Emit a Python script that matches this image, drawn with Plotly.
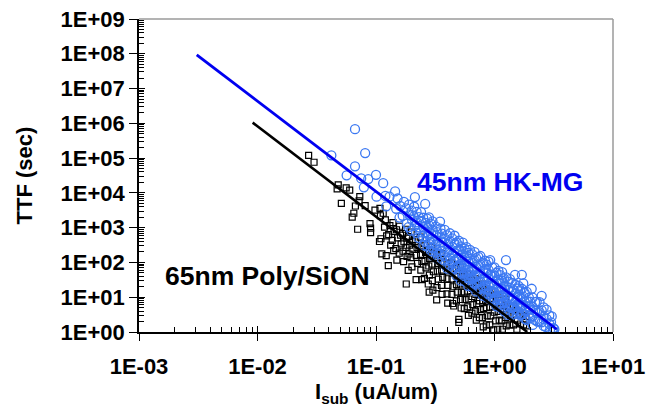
import plotly.graph_objects as go

# ---------------- data ----------------
# 65nm Poly/SiON (black squares)
poly_isub = [
    0.027, 0.030, 0.048, 0.047, 0.056, 0.060, 0.051, 0.073, 0.072, 0.081, 0.067, 0.065, 0.063, 0.070,
    0.089, 0.090, 0.090, 0.098, 0.108, 0.109, 0.115, 0.107, 0.110, 0.112, 0.122, 0.127, 0.150, 0.180,
    0.120, 0.118, 0.123, 0.131, 0.128, 0.133, 0.139, 0.142, 0.137, 0.141, 0.149, 0.152, 0.147,
    0.158, 0.161, 0.163, 0.157, 0.168, 0.172, 0.169, 0.171, 0.178, 0.182, 0.179, 0.183,
    0.188, 0.192, 0.190, 0.187, 0.198, 0.202, 0.205, 0.197, 0.201,
    0.216, 0.222, 0.219, 0.224, 0.218, 0.236, 0.241, 0.238, 0.244, 0.239, 0.243,
    0.257, 0.262, 0.259, 0.264, 0.256, 0.277, 0.283, 0.279, 0.282, 0.276, 0.281,
    0.296, 0.303, 0.298, 0.305, 0.299, 0.302, 0.326, 0.332, 0.329, 0.335, 0.327, 0.325,
    0.355, 0.362, 0.358, 0.365, 0.357, 0.361, 0.395, 0.402, 0.398, 0.405, 0.397, 0.403,
    0.435, 0.442, 0.438, 0.445, 0.437, 0.443, 0.475, 0.482, 0.478, 0.485, 0.477, 0.453,
    0.500, 0.500, 0.515, 0.522, 0.518, 0.525, 0.517, 0.523, 0.553, 0.562, 0.558, 0.565, 0.556,
    0.593, 0.603, 0.597, 0.606, 0.595, 0.602, 0.642, 0.652, 0.647, 0.656, 0.645,
    0.690, 0.705, 0.697, 0.708, 0.693, 0.702, 0.740, 0.755, 0.748, 0.758, 0.745,
    0.790, 0.805, 0.797, 0.810, 0.793, 0.803, 0.850, 0.865, 0.857, 0.868, 0.853,
    0.910, 0.925, 0.917, 0.930, 0.913, 0.990, 1.010, 0.995, 1.020, 0.985,
    1.070, 1.090, 1.075, 1.095, 1.065, 1.150, 1.170, 1.155, 1.165, 1.240, 1.260, 1.245, 1.255,
    1.340, 1.360, 1.345, 1.440, 1.460, 1.445, 1.540, 1.560, 1.545, 1.640, 1.660, 1.740, 1.760,
    1.840, 1.860,
]
poly_ttf = [
    1.2e5, 7.6e4, 1.7e4, 1.3e4, 1.4e4, 1.2e4, 5.0e3, 7.8e3, 5.9e3, 4.3e3, 4.2e3, 2.6e3, 2.0e3, 900,
    1300, 970, 720, 3200, 3600, 2200, 2600, 400, 480, 177, 158, 81, 117, 24,
    1680, 1030, 580, 1150, 630, 315, 1390, 780, 430, 220, 870, 510, 250,
    1100, 610, 340, 185, 680, 390, 210, 105, 900, 500, 270, 150,
    550, 315, 175, 59, 750, 410, 240, 137, 75,
    455, 268, 160, 94, 32, 535, 300, 171, 107, 60, 32,
    348, 191, 113, 70, 35, 229, 129, 79, 43, 24, 14,
    276, 156, 90, 54, 30, 16, 168, 94, 56, 33, 19, 8.4,
    179, 104, 60, 37, 22, 12, 96, 57, 34, 22, 12.5, 6.8,
    97, 58, 33, 20, 12, 6.6, 67, 39, 23, 14, 7.8, 5.6,
    2.3, 1.9, 72, 40, 24, 14, 8.6, 4.9, 43, 24, 14, 8.5, 4.7,
    46, 26, 15, 8.9, 5.3, 3.0, 31, 18, 10.5, 6.1, 3.5,
    34, 20, 12, 6.6, 4.0, 2.2, 22, 12.8, 7.8, 4.4, 2.6,
    24, 14, 8.0, 4.7, 2.6, 1.4, 14.7, 8.5, 5.0, 2.9, 1.6,
    16, 9.1, 5.2, 2.9, 1.6, 11.5, 6.3, 3.7, 2.1, 1.15,
    12, 6.9, 3.9, 2.2, 1.2, 7.1, 3.9, 2.1, 1.2, 8.8, 4.7, 2.6, 1.5,
    5.3, 2.9, 1.6, 5.6, 3.0, 1.6, 4.2, 2.2, 1.2, 3.1, 1.7, 3.0, 1.6,
    2.8, 1.5,
]

# 45nm HK-MG (blue circles)
hkmg_isub = [
    0.0665, 0.081, 0.042, 0.0665, 0.0565, 0.075, 0.086, 0.100, 0.079, 0.115, 0.145, 0.101,
    0.120, 0.122, 0.130, 0.152, 0.148, 0.160, 0.158, 0.172, 0.168, 0.180, 0.182,
    0.190, 0.192, 0.188, 0.200, 0.202, 0.198, 0.213, 0.210, 0.208, 0.212,
    0.220, 0.222, 0.218, 0.230, 0.232, 0.228, 0.240, 0.242, 0.238,
    0.250, 0.252, 0.248, 0.251, 0.260, 0.262, 0.258, 0.261, 0.270, 0.272, 0.268, 0.271,
    0.280, 0.282, 0.278, 0.281, 0.290, 0.292, 0.288, 0.291, 0.300, 0.302, 0.298, 0.301, 0.299,
    0.320, 0.322, 0.318, 0.321, 0.347, 0.330, 0.332, 0.328, 0.331, 0.350, 0.352, 0.348, 0.351,
    0.360, 0.362, 0.358, 0.361, 0.380, 0.382, 0.378, 0.381, 0.379, 0.400, 0.402, 0.398, 0.401, 0.399,
    0.420, 0.422, 0.418, 0.421, 0.419, 0.440, 0.442, 0.438, 0.441, 0.439,
    0.460, 0.462, 0.458, 0.461, 0.459, 0.480, 0.482, 0.478, 0.481, 0.479,
    0.500, 0.502, 0.498, 0.501, 0.499, 0.520, 0.522, 0.518, 0.521, 0.519,
    0.540, 0.542, 0.538, 0.541, 0.539, 0.560, 0.562, 0.558, 0.561, 0.559,
    0.580, 0.582, 0.578, 0.581, 0.579, 0.600, 0.602, 0.598, 0.601, 0.599,
    0.620, 0.622, 0.618, 0.621, 0.619, 0.650, 0.652, 0.648, 0.651, 0.649,
    0.680, 0.682, 0.678, 0.681, 0.679, 0.700, 0.702, 0.698, 0.701, 0.699,
    0.730, 0.732, 0.728, 0.731, 0.729, 0.760, 0.762, 0.758, 0.761, 0.759,
    0.800, 0.802, 0.798, 0.801, 0.799, 0.830, 0.832, 0.828, 0.831, 0.829,
    0.860, 0.862, 0.858, 0.861, 0.859, 0.890, 0.892, 0.888, 0.891, 0.889,
    0.920, 0.922, 0.918, 0.921, 0.919, 0.960, 0.962, 0.958, 0.961, 0.959,
    1.000, 1.002, 0.998, 1.001, 0.999, 1.040, 1.042, 1.038, 1.041, 1.039,
    1.080, 1.082, 1.078, 1.081, 1.079, 1.120, 1.122, 1.118, 1.121, 1.119,
    1.160, 1.162, 1.158, 1.161, 1.159, 1.200, 1.202, 1.198, 1.201, 1.199,
    1.250, 1.252, 1.248, 1.251, 1.249, 1.250, 1.300, 1.302, 1.298, 1.301, 1.299,
    1.350, 1.352, 1.348, 1.351, 1.349, 1.400, 1.402, 1.398, 1.401,
    1.490, 1.450, 1.448, 1.451, 1.449, 1.500, 1.502, 1.498, 1.501,
    1.550, 1.552, 1.548, 1.551, 1.600, 1.602, 1.598, 1.601, 1.650, 1.652, 1.648, 1.651,
    1.700, 1.702, 1.698, 1.701, 1.699, 1.750, 1.752, 1.748, 1.751, 1.800, 1.802, 1.798, 1.801,
    1.870, 1.872, 1.868, 1.871, 1.950, 1.952, 1.948, 2.060, 2.000, 2.002, 1.998,
    2.100, 2.102, 2.098, 2.101, 2.200, 2.202, 2.198, 2.270, 2.300, 2.302,
    2.400, 2.402, 2.398, 2.500, 2.502, 2.498, 2.600, 2.602, 2.598, 2.750, 2.752, 2.700,
    2.900, 2.902, 2.940, 3.040, 3.000, 3.140, 3.200, 3.100,
]
hkmg_ttf = [
    6.8e5, 1.4e5, 1.2e5, 5.8e4, 3.2e4, 2.6e4, 2.5e4, 3.3e4, 1.45e4, 1.9e4, 1.1e4, 7.8e3,
    8200, 4100, 7800, 6900, 3500, 4200, 1950, 5500, 2200, 3600, 1300,
    4600, 2300, 1040, 3100, 1640, 820, 7600, 4000, 2100, 1120,
    2840, 1420, 710, 2000, 1010, 510, 2800, 1470, 730,
    1930, 1020, 560, 305, 4800, 1380, 740, 390, 1830, 1000, 540, 290,
    1970, 1140, 610, 340, 1310, 690, 380, 210, 1520, 830, 480, 254, 160,
    1070, 590, 320, 188, 1500, 740, 420, 223, 124, 935, 510, 300, 170,
    670, 375, 217, 119, 860, 480, 275, 154, 86, 600, 330, 195, 114, 66,
    690, 400, 225, 133, 80, 490, 282, 165, 94, 59,
    585, 334, 188, 115, 67, 374, 215, 122, 75, 41,
    420, 235, 134, 81, 47, 289, 160, 91, 53, 30,
    373, 207, 117, 69, 41, 250, 138, 81, 48, 29,
    274, 154, 86, 51, 31, 189, 105, 61, 35, 21,
    231, 125, 72, 43, 26, 170, 98, 55, 34, 20,
    197, 114, 64, 38, 23, 133, 74, 42, 25, 14.7,
    145, 82, 47, 28, 16.4, 153, 85, 48, 28, 17,
    99, 57, 32, 19, 10.9, 113, 63, 36, 21.6, 12.6,
    86, 49, 29, 16.4, 9.9, 105, 60, 34, 21, 12,
    117, 45, 26, 15.5, 9.3, 71, 40, 23, 13.6, 7.7,
    72, 42, 23.6, 13.9, 8.3, 50, 29, 16.3, 9.5, 5.5,
    57, 32, 18.2, 10.9, 6.4, 43, 25, 14.5, 8.3, 5.0,
    53, 30, 17, 10.4, 6.0, 35, 20, 11.2, 6.9, 4.0,
    117, 37, 21, 12.2, 7.0, 4.2, 28, 16.2, 9.2, 5.4, 3.1,
    33, 18.6, 10.2, 6.1, 3.6, 25.5, 14.5, 8.1, 4.9,
    44, 15.9, 9.0, 5.3, 3.2, 23, 12.6, 7.3, 4.4,
    17.8, 10.2, 5.8, 3.4, 21, 11.9, 6.6, 3.7, 16, 9.1, 5.3, 3.0,
    44, 17.5, 9.8, 5.6, 3.2, 25, 10.4, 5.9, 3.3, 13.3, 7.2, 4.1, 2.4,
    14.2, 7.7, 4.1, 2.2, 9.8, 5.4, 2.9, 17.5, 7.4, 4.4, 2.5,
    9.7, 5.3, 2.8, 1.6, 7.2, 4.0, 2.2, 7.5, 3.6, 2.0,
    7.2, 3.7, 2.0, 11, 4.2, 1.9, 5.1, 2.8, 1.5, 4.4, 2.4, 1.4,
    3.0, 1.7, 1.15, 2.8, 1.9, 1.3, 1.2, 1.05,
]

# fitted power-law lines (end points)
poly_fit_isub = [0.0091, 1.89]
poly_fit_ttf = [1.05e6, 1.0]
hkmg_fit_isub = [0.00307, 3.35]
hkmg_fit_ttf = [9.3e7, 1.2]

x_tickvals = [1e-3, 1e-2, 1e-1, 1e0, 1e1]
x_ticktext = ["1E-03", "1E-02", "1E-01", "1E+00", "1E+01"]
y_tickvals = [1e0, 1e1, 1e2, 1e3, 1e4, 1e5, 1e6, 1e7, 1e8, 1e9]
y_ticktext = ["1E+00", "1E+01", "1E+02", "1E+03", "1E+04",
              "1E+05", "1E+06", "1E+07", "1E+08", "1E+09"]

label_poly = "65nm Poly/SiON"
label_hkmg = "45nm HK-MG"
x_title = "I<sub>sub</sub> (uA/um)"
y_title = "TTF (sec)"

# ---------------- figure ----------------
FONT = "Liberation Sans, Arial, sans-serif"
BLUE_MARK = "#3b78f2"
BLUE_LINE = "#0000f0"

x_minor = [m * 10.0 ** e for e in range(-3, 1) for m in range(2, 10)]
y_minor = [m * 10.0 ** e for e in range(0, 9) for m in range(2, 10)]

fig = go.Figure()
fig.add_trace(go.Scatter(
    x=poly_isub, y=poly_ttf, mode="markers", name=label_poly,
    marker=dict(symbol="square-open", size=6, color="black", line=dict(width=1.2, color="black")),
))
fig.add_trace(go.Scatter(
    x=hkmg_isub, y=hkmg_ttf, mode="markers", name=label_hkmg,
    marker=dict(symbol="circle-open", size=9, color=BLUE_MARK, line=dict(width=1.3, color=BLUE_MARK)),
))
fig.add_trace(go.Scatter(
    x=poly_fit_isub, y=poly_fit_ttf, mode="lines", line=dict(color="black", width=2.6),
    name=label_poly + " fit",
))
fig.add_trace(go.Scatter(
    x=hkmg_fit_isub, y=hkmg_fit_ttf, mode="lines", line=dict(color=BLUE_LINE, width=2.8),
    name=label_hkmg + " fit",
))
# empty trace carrying the overlay axes used for the inner half of the crossing major ticks
fig.add_trace(go.Scatter(x=[], y=[], xaxis="x2", yaxis="y2", showlegend=False, hoverinfo="skip"))

tickfont = dict(family=FONT, size=22, color="black", weight="bold")
titlefont = dict(family=FONT, size=22, color="black", weight="bold")

fig.update_layout(
    width=647, height=409,
    margin=dict(l=139, r=34, t=19, b=77, pad=0),
    paper_bgcolor="white", plot_bgcolor="white",
    showlegend=False,
    font=dict(family=FONT, color="black"),
    xaxis=dict(
        type="log", range=[-3, 1], showgrid=False, zeroline=False, automargin=False,
        showline=True, linecolor="black", linewidth=1.5,
        ticks="outside", ticklen=7, tickwidth=1, tickcolor="black",
        tickmode="array", tickvals=x_tickvals, ticktext=x_ticktext, tickfont=tickfont,
        ticklabelstandoff=7,
        minor=dict(tickmode="array", tickvals=x_minor, ticks="inside", ticklen=5,
                   tickwidth=1, tickcolor="black", showgrid=False),
    ),
    yaxis=dict(
        type="log", range=[0, 9], showgrid=False, zeroline=False, automargin=False,
        showline=True, linecolor="black", linewidth=1.5,
        ticks="outside", ticklen=8, tickwidth=1, tickcolor="black",
        tickmode="array", tickvals=y_tickvals, ticktext=y_ticktext, tickfont=tickfont,
        minor=dict(tickmode="array", tickvals=y_minor, ticks="inside", ticklen=5,
                   tickwidth=1, tickcolor="black", showgrid=False),
        title=dict(text=y_title, font=titlefont, standoff=22),
    ),
    xaxis2=dict(
        type="log", range=[-3, 1], overlaying="x", anchor="y", side="bottom",
        showgrid=False, zeroline=False, showline=False, showticklabels=False,
        ticks="inside", ticklen=6, tickwidth=1, tickcolor="black",
        tickmode="array", tickvals=x_tickvals,
    ),
    yaxis2=dict(
        type="log", range=[0, 9], overlaying="y", anchor="x", side="left",
        showgrid=False, zeroline=False, showline=False, showticklabels=False,
        ticks="inside", ticklen=6, tickwidth=1, tickcolor="black",
        tickmode="array", tickvals=y_tickvals,
    ),
    shapes=[
        dict(type="line", xref="paper", yref="paper", x0=0, x1=1, y0=1, y1=1,
             line=dict(color="#9a9a9a", width=1.5)),
        dict(type="line", xref="paper", yref="paper", x0=1, x1=1, y0=0, y1=1,
             line=dict(color="#9a9a9a", width=1.5)),
    ],
    annotations=[
        dict(text=label_hkmg, xref="paper", yref="paper", x=0.7616, y=0.479,
             xanchor="center", yanchor="middle", showarrow=False,
             font=dict(family=FONT, size=26.5, color=BLUE_LINE, weight="bold")),
        dict(text=label_poly, xref="paper", yref="paper", x=0.272, y=0.179,
             xanchor="center", yanchor="middle", showarrow=False,
             font=dict(family=FONT, size=26.5, color="black", weight="bold")),
        # x-axis title placed just under the tick labels
        dict(text=x_title, xref="paper", yref="paper", x=0.5, y=-0.145,
             xanchor="center", yanchor="top", showarrow=False, font=titlefont),
    ],
)

# remove the browser's default 8px body margin so the figure sits at the window origin
fig.write_html("out.html", config={"displayModeBar": False},
               post_script="document.body.style.margin='0px';")
